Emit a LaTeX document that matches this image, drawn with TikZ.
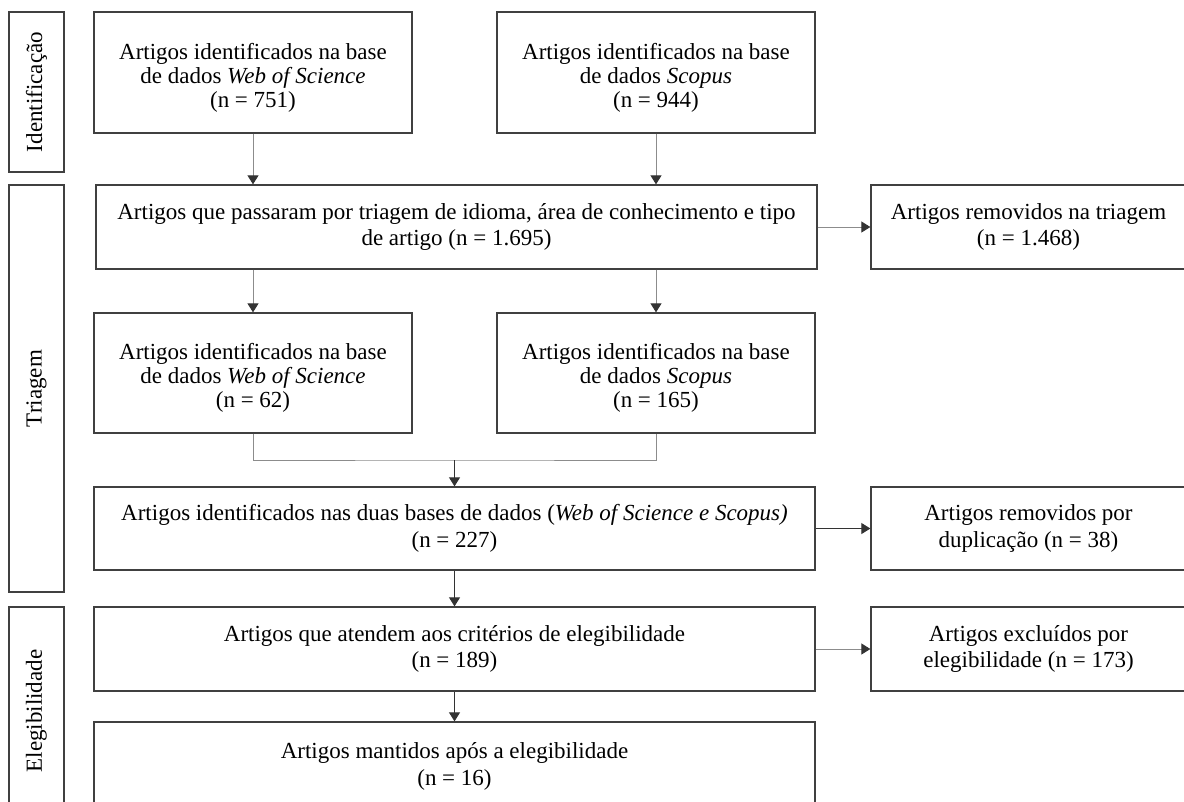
\documentclass[tikz,border=0pt]{standalone}
\usepackage{fontspec}
\setmainfont{Liberation Serif}
\usetikzlibrary{arrows.meta}

\begin{document}
\begin{tikzpicture}[x=1pt, y=-1pt,
  caixa/.style={draw=black!75, line width=1.3pt, align=center, inner sep=0pt, font=\fontsize{23}{26.5}\selectfont},
  tres/.style={caixa, minimum width=318pt, minimum height=121pt, font=\fontsize{23}{24}\selectfont},
  fase/.style={draw=black!75, line width=1.3pt, rotate=90, minimum height=55pt, inner sep=0pt, font=\fontsize{23}{26}\selectfont},
  linha/.style={draw=black!45, line width=1pt},
  lig/.style={linha, -{Triangle[length=9pt,width=11pt,color=black!80]}},
  ligd/.style={draw=black!80, line width=1pt, -{Triangle[length=9pt,width=11pt,color=black!80]}}]

\useasboundingbox (0,0) rectangle (1184,801);

% fases
\node[fase, minimum width=160pt] (fid) at (36.5,92) {Identificação};
\node[fase, minimum width=407pt] (ftr) at (36.5,388.5) {Triagem};
\node[fase, minimum width=208pt] (fel) at (36.5,711) {Elegibilidade};

% identificacao
\node[tres] (wos1) at (253,72.5) {\rule{0pt}{26pt}Artigos identificados na base\\de dados \textit{Web of Science}\\(n = 751)};
\node[tres] (sco1) at (656,72.5) {\rule{0pt}{26pt}Artigos identificados na base\\de dados \textit{Scopus}\\(n = 944)};

% triagem
\node[caixa, minimum width=721pt, minimum height=84pt] (tri) at (456.5,227) {Artigos que passaram por triagem de idioma, área de conhecimento e tipo\\de artigo (n = 1.695)};
\node[caixa, minimum width=315pt, minimum height=84pt] (rem1) at (1028.5,227) {Artigos removidos na triagem\\(n = 1.468)};
\node[tres, minimum height=120pt] (wos2) at (253,373) {\rule{0pt}{26pt}Artigos identificados na base\\de dados \textit{Web of Science}\\(n = 62)};
\node[tres, minimum height=120pt] (sco2) at (656,373) {\rule{0pt}{26pt}Artigos identificados na base\\de dados \textit{Scopus}\\(n = 165)};
\coordinate (junc) at (454.5,460);
\node[caixa, minimum width=721pt, minimum height=83pt] (duas) at (454.5,528.5) {Artigos identificados nas duas bases de dados (\textit{Web of Science e Scopus)}\\(n = 227)};
\node[caixa, minimum width=315pt, minimum height=83pt] (rem2) at (1028.5,528.5) {Artigos removidos por\\duplicação (n = 38)};

% elegibilidade
\node[caixa, minimum width=721pt, minimum height=84pt] (crit) at (454.5,649) {Artigos que atendem aos critérios de elegibilidade\\(n = 189)};
\node[caixa, minimum width=315pt, minimum height=84pt] (excl) at (1028.5,649) {Artigos excluídos por\\elegibilidade (n = 173)};
\node[caixa, minimum width=721pt, minimum height=89pt] (mant) at (454.5,766.5) {Artigos mantidos após a elegibilidade\\(n = 16)};

% ligacoes
\draw[lig] (wos1.south) -- (wos1.south |- tri.north);
\draw[lig] (sco1.south) -- (sco1.south |- tri.north);
\draw[lig] (tri.east) -- (rem1.west);
\draw[lig] (wos2.north |- tri.south) -- (wos2.north);
\draw[lig] (sco2.north |- tri.south) -- (sco2.north);
\draw[linha] (wos2.south) |- (junc) -| (sco2.south);
\draw[ligd] (junc) -- (duas.north);
\draw[ligd] (duas.east) -- (rem2.west);
\draw[ligd] (duas.south) -- (crit.north);
\draw[lig] (crit.east) -- (excl.west);
\draw[ligd] (crit.south) -- (mant.north);

\end{tikzpicture}
\end{document}
